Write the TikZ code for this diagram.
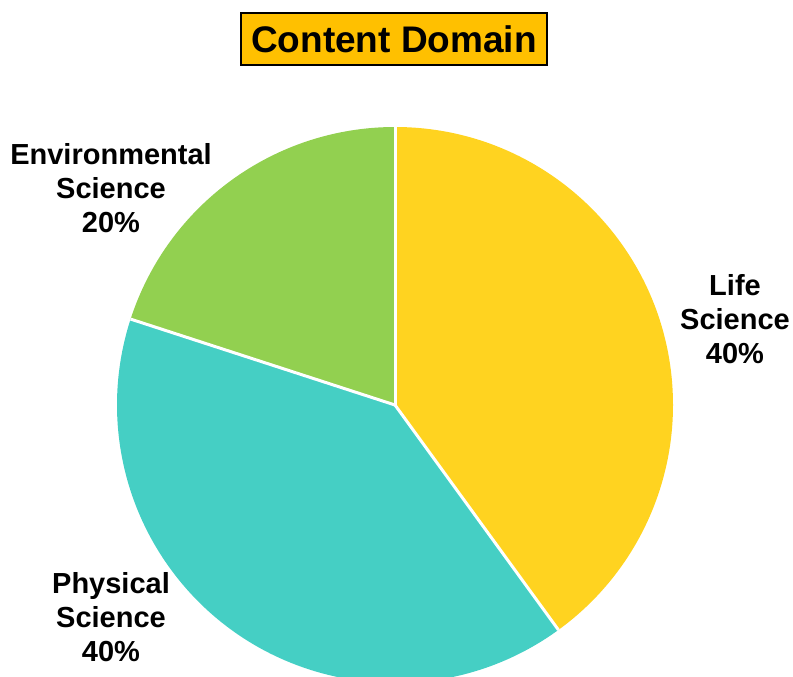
\documentclass[tikz,border=0pt]{standalone}
\usepackage{fontspec}
\setmainfont{Liberation Sans}
\definecolor{lifec}{RGB}{255,211,32}
\definecolor{envc}{RGB}{146,208,80}
\definecolor{physc}{RGB}{69,207,196}
\definecolor{titlec}{RGB}{255,192,0}
\begin{document}
\begin{tikzpicture}[x=1pt,y=-1pt,
  lbl/.style={align=center,inner sep=0pt,font=\fontsize{29}{34}\selectfont\bfseries},
  sep/.style={draw=white,line width=3pt},
  titlebox/.style={fill=titlec,draw=black,line width=1.5pt,minimum width=306pt,minimum height=52pt,inner sep=0pt,font=\fontsize{37}{40}\selectfont\bfseries}]
\useasboundingbox (0,0) rectangle (793,677);
\clip (0,0) rectangle (793,677);
\coordinate (c) at (395,405);
\path (c) ++(-90:278) coordinate (b1);
\path (c) ++(54:278) coordinate (b2);
\path (c) ++(198:278) coordinate (b3);
\fill[lifec] (c) -- (b1) arc[start angle=-90,end angle=54,radius=278] -- cycle;
\fill[physc] (c) -- (b2) arc[start angle=54,end angle=198,radius=278] -- cycle;
\fill[envc] (c) -- (b3) arc[start angle=198,end angle=270,radius=278] -- cycle;
\draw[sep] (c) -- (b1);
\draw[sep] (c) -- (b2);
\draw[sep] (c) -- (b3);
\node[titlebox] (title) at (394,39) {Content Domain};
\node[lbl] (env) at (111,188) {Environmental\\Science\\20\%};
\node[lbl] (life) at (735,319) {Life\\Science\\40\%};
\node[lbl] (phys) at (111,617) {Physical\\Science\\40\%};
\end{tikzpicture}
\end{document}
